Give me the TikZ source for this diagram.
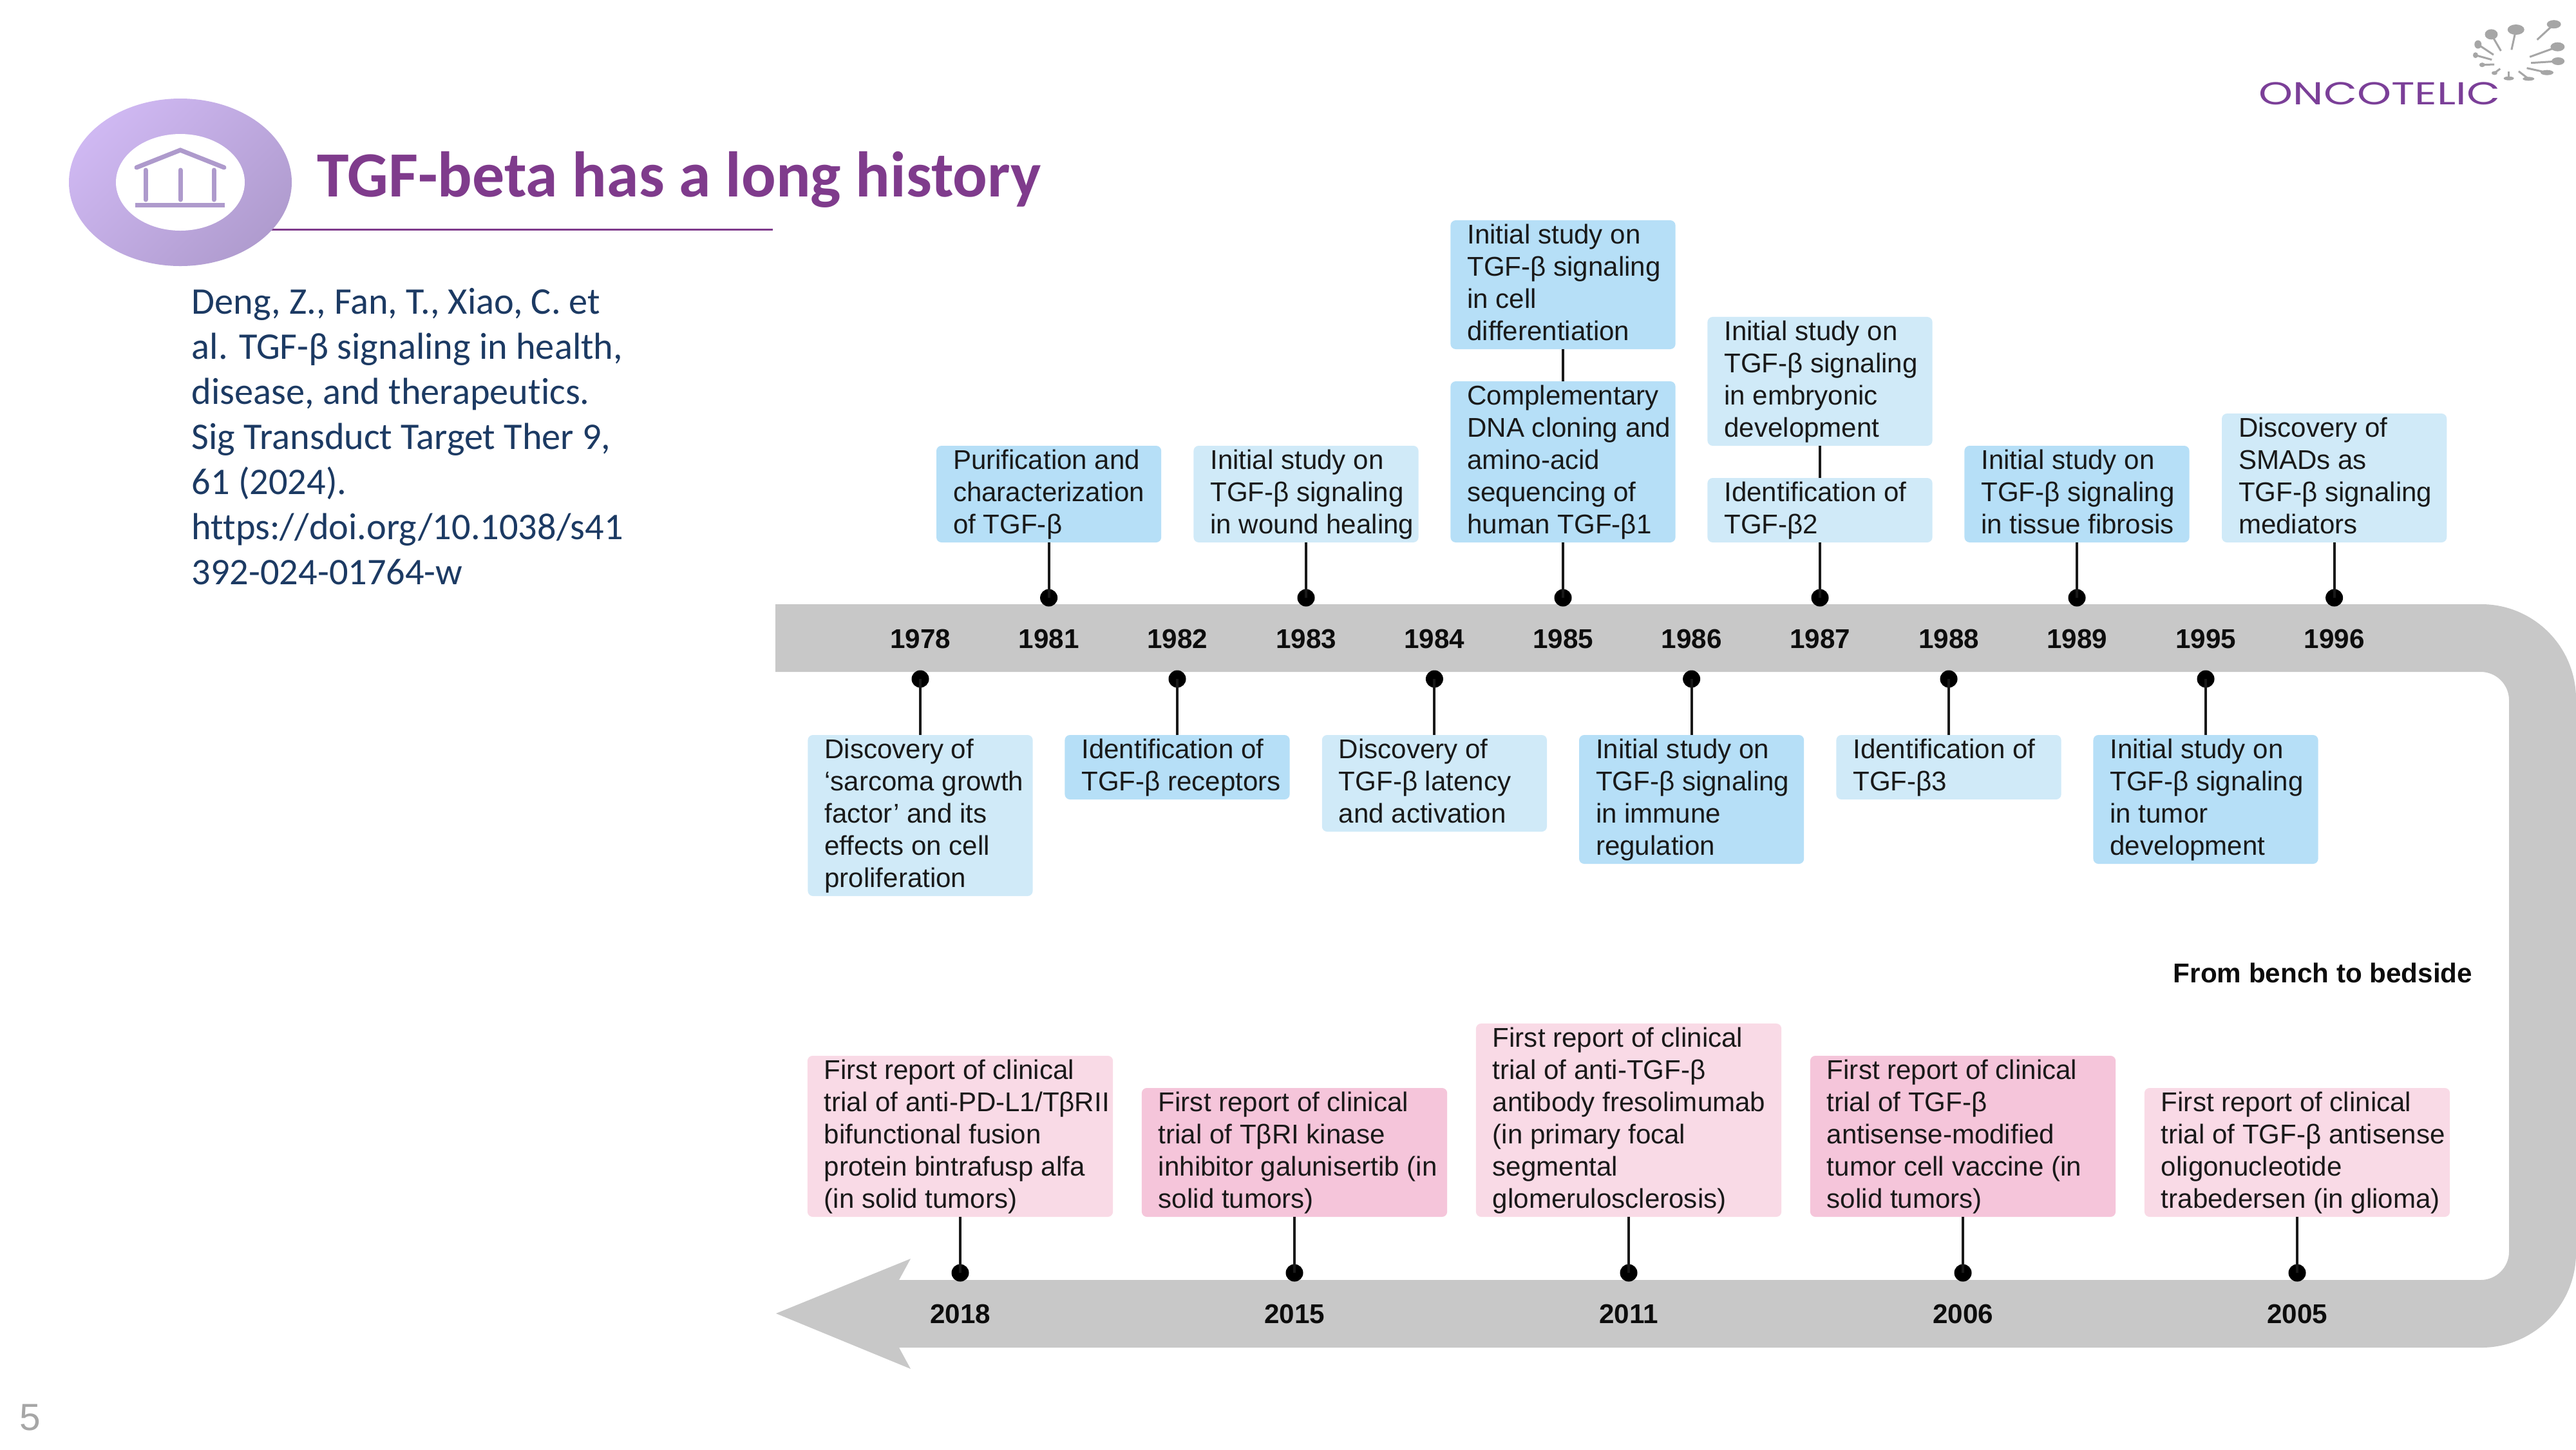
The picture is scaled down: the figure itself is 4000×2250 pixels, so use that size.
\documentclass[tikz,border=0pt]{standalone}
\usepackage{fontspec}
\setmainfont{Liberation Sans}
\newfontfamily\carfont[Ligatures=NoCommon]{Carlito}
\newfontfamily\popfont{Poppins}
\definecolor{bargray}{HTML}{C8C8C8}
\definecolor{bluea}{HTML}{D0EAF8}
\definecolor{blueb}{HTML}{B6DFF7}
\definecolor{pinka}{HTML}{F9DAE6}
\definecolor{pinkb}{HTML}{F5C5DA}
\definecolor{purp}{HTML}{7F3B8C}
\definecolor{navy}{HTML}{1C3A63}
\definecolor{icon}{HTML}{AE9ACC}
\definecolor{lav}{HTML}{CFB8F2}
\definecolor{lavd}{HTML}{B09CCF}
\definecolor{logop}{HTML}{7B3F98}
\definecolor{logog}{HTML}{A6A6A6}
\definecolor{pagegray}{HTML}{A6A6A6}
\tikzset{
  tbox/.style={rounded corners=0.08cm,inner sep=0pt,outer sep=0pt,text=black!90,
    font=\fontsize{11.97}{14.22}\selectfont},
  yr/.style={font=\bfseries\fontsize{12}{14}\selectfont,text=black!95,inner sep=0pt},
  tldot/.style={circle,fill=black,minimum size=0.27cm,inner sep=0pt,outer sep=0pt},
  conn/.style={draw=black!90,line width=0.04cm},
  stem/.style={draw=logog,line width=0.03cm},
}
% name, fill, x, y, anchor, width(cm), lines
\newcommand{\tb}[7]{\node[tbox,fill=#2,anchor=#5] (#1) at (#3,#4)
  {\makebox[#6cm][l]{\hspace*{0.26cm}\raisebox{-0.012cm}[\height][\depth]{\begin{tabular}{@{}l@{}}#7\end{tabular}}}};}
\newcommand{\seed}[6]{% head x,y in zoom; rx, ry; rot; stem end
  \draw[stem] ({3400+#1/2.613},{#2/3}) -- ({3400+#5/2.613},{#6/3});
  \fill[logog] ({3400+#1/2.613},{#2/3}) circle[x radius=#3,y radius=#4];}
\begin{document}
\begin{tikzpicture}[x=0.01cm,y=-0.01cm]
\useasboundingbox (0,0) rectangle (4000,2250);
\fill[white] (0,0) rectangle (4000,2250);
% header
\draw[purp,line width=0.03cm] (400,356) -- (1200,356);
\shade[top color=lav,bottom color=lavd,shading angle=45] (280,283) circle[x radius=173,y radius=130];
\fill[white] (280,283) circle[x radius=100,y radius=75];
\draw[icon,line width=0.07cm,line cap=round] (212,260) -- (280,233) -- (348,260);
\foreach \cx in {226,280,332} \draw[icon,line width=0.07cm,line cap=round] (\cx,264) -- (\cx,310);
\fill[icon] (210,315) rectangle (349,322);
\node[anchor=base west,inner sep=0pt,text=purp,font=\carfont\bfseries\fontsize{28.45}{32}\selectfont] (title) at (492,305) {TGF-beta has a long history};
\node[anchor=north west,inner sep=0pt,text=navy,align=left,font=\carfont\fontsize{16.6}{19.9}\selectfont] (ref) at (297,447)
 {Deng, Z., Fan, T., Xiao, C. et\\al. TGF-β signaling in health,\\disease, and therapeutics.\\Sig Transduct Target Ther 9,\\61 (2024).\\https://doi.org/10.1038/s41\\392-024-01764-w};
\node[anchor=base west,inner sep=0pt,text=pagegray,font=\fontsize{16.7}{18}\selectfont] (pg) at (30,2220) {5};
% logo
\node[anchor=base west,inner sep=0pt,text=logop,font=\popfont\fontsize{14}{16}\selectfont] (logo) at (3507,162) {\scalebox{1.37}[1]{ONCOTELIC}};
\seed{1478}{113}{11}{6.5}{1410}{185}
\seed{1324}{138}{13}{8}{1306}{232}
\seed{1224}{160}{10}{8}{1263}{237}
\seed{1170}{207}{5.5}{6.5}{1233}{255}
\seed{1160}{257}{4}{4.5}{1226}{278}
\seed{1187}{302}{4.5}{3.5}{1236}{300}
\seed{1237}{340}{4.5}{3}{1260}{320}
\seed{1295}{365}{8}{3}{1295}{332}
\seed{1375}{367}{9}{3}{1335}{332}
\seed{1450}{338}{10}{4}{1368}{317}
\seed{1495}{285}{10}{6}{1385}{293}
\seed{1493}{218}{11}{7}{1380}{265}
% timeline ribbon
\fill[bargray] (1204,938) [rounded corners=1.47cm] -- (4000,938) -- (4000,2092) [rounded corners=0pt] -- (1396,2092) -- (1414,2125) -- (1205,2039) -- (1414,1954) -- (1396,1987) [rounded corners=0.44cm] -- (3896,1987) -- (3896,1043) [rounded corners=0pt] -- (1204,1043) -- cycle;
% years
\foreach \n/\x/\y in {1978/1429/992,1981/1628.6/992,1982/1828/992,1983/2028/992,1984/2227.4/992,1985/2427/992,1986/2626.6/992,1987/2826/992,1988/3026/992,1989/3225/992,1995/3425/992,1996/3624.6/992,2018/1491/2040,2015/2010/2040,2011/2529/2040,2006/3048/2040,2005/3567/2040}
  \node[yr] (y\n) at (\x,\y) {\n};
% dots
\foreach \n/\x in {1981/1628.6,1983/2028,1985/2427,1987/2826,1989/3225,1996/3624.6}
  \node[tldot] (d\n) at (\x,928) {};
\foreach \n/\x in {1978/1429,1982/1828,1984/2227.4,1986/2626.6,1988/3026,1995/3425}
  \node[tldot] (d\n) at (\x,1054) {};
\foreach \n/\x in {2018/1491,2015/2010,2011/2529,2006/3048,2005/3567}
  \node[tldot] (d\n) at (\x,1976) {};
% upper boxes
\tb{b1981}{blueb}{1628.6}{842}{south}{3.49}{Purification and\\characterization\\of TGF-β}
\tb{b1983}{bluea}{2028}{842}{south}{3.49}{Initial study on\\TGF-β signaling\\in wound healing}
\tb{b1985}{blueb}{2427}{842}{south}{3.49}{Complementary\\DNA cloning and\\amino-acid\\sequencing of\\human TGF-β1}
\tb{c1985}{blueb}{2427}{542}{south}{3.49}{Initial study on\\TGF-β signaling\\in cell\\differentiation}
\tb{b1987}{bluea}{2826}{842}{south}{3.49}{Identification of\\TGF-β2}
\tb{c1987}{bluea}{2826}{692}{south}{3.49}{Initial study on\\TGF-β signaling\\in embryonic\\development}
\tb{b1989}{blueb}{3225}{842}{south}{3.49}{Initial study on\\TGF-β signaling\\in tissue fibrosis}
\tb{b1996}{bluea}{3624.6}{842}{south}{3.49}{Discovery of\\SMADs as\\TGF-β signaling\\mediators}
% lower boxes
\tb{b1978}{bluea}{1429}{1141}{north}{3.49}{Discovery of\\‘sarcoma growth\\factor’ and its\\effects on cell\\proliferation}
\tb{b1982}{blueb}{1828}{1141}{north}{3.49}{Identification of\\TGF-β receptors}
\tb{b1984}{bluea}{2227.4}{1141}{north}{3.49}{Discovery of\\TGF-β latency\\and activation}
\tb{b1986}{blueb}{2626.6}{1141}{north}{3.49}{Initial study on\\TGF-β signaling\\in immune\\regulation}
\tb{b1988}{bluea}{3026}{1141}{north}{3.49}{Identification of\\TGF-β3}
\tb{b1995}{blueb}{3425}{1141}{north}{3.49}{Initial study on\\TGF-β signaling\\in tumor\\development}
% pink boxes
\tb{b2018}{pinka}{1491}{1889}{south}{4.74}{First report of clinical\\trial of anti-PD-L1/TβRII\\bifunctional fusion\\protein bintrafusp alfa\\(in solid tumors)}
\tb{b2015}{pinkb}{2010}{1889}{south}{4.74}{First report of clinical\\trial of TβRI kinase\\inhibitor galunisertib (in\\solid tumors)}
\tb{b2011}{pinka}{2529}{1889}{south}{4.74}{First report of clinical\\trial of anti-TGF-β\\antibody fresolimumab\\(in primary focal\\segmental\\glomerulosclerosis)}
\tb{b2006}{pinkb}{3048}{1889}{south}{4.74}{First report of clinical\\trial of TGF-β\\antisense-modified\\tumor cell vaccine (in\\solid tumors)}
\tb{b2005}{pinka}{3567}{1889}{south}{4.74}{First report of clinical\\trial of TGF-β antisense\\oligonucleotide\\trabedersen (in glioma)}
% connectors
\foreach \n in {1981,1983,1985,1987,1989,1996,2018,2015,2011,2006,2005}
  \draw[conn] (b\n.south) -- (d\n.center);
\foreach \n in {1978,1982,1984,1986,1988,1995}
  \draw[conn] (d\n.center) -- (b\n.north);
\draw[conn] (c1985.south) -- (b1985.north);
\draw[conn] (c1987.south) -- (b1987.north);
\node[yr,anchor=center] (bench) at (3607,1510) {From bench to bedside};
\end{tikzpicture}
\end{document}
